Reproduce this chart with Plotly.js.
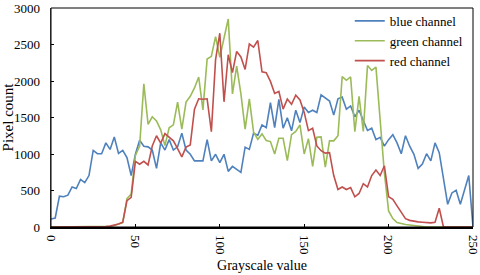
<!DOCTYPE html>
<html><head><meta charset="utf-8">
<script src="https://cdn.plot.ly/plotly-3.0.1.min.js"></script>
<style>html,body{margin:0;padding:0;background:#fff}#chart{width:480px;height:275px}</style>
</head><body><div id="chart"></div>
<script>
const grayscale = [0,2.5,5,7.5,10,12.5,15,17.5,20,22.5,25,27.5,30,32.5,35,37.5,40,42.5,45,47.5,50,52.5,55,57.5,60,62.5,65,67.5,70,72.5,75,77.5,80,82.5,85,87.5,90,92.5,95,97.5,100,102.5,105,107.5,110,112.5,115,117.5,120,122.5,125,127.5,130,132.5,135,137.5,140,142.5,145,147.5,150,152.5,155,157.5,160,162.5,165,167.5,170,172.5,175,177.5,180,182.5,185,187.5,190,192.5,195,197.5,200,202.5,205,207.5,210,212.5,215,217.5,220,222.5,225,227.5,230,232.5,235,237.5,240,242.5,245,247.5,250];
const blueChannel = [110,123,423,414,436,548,526,651,607,705,
 1050,1004,1004,1152,1063,1232,1009,1050,950,705,
 996,1188,1107,1098,1054,803,1152,1054,1197,1054,
 1098,1286,1054,996,906,909,906,1197,906,996,
 883,996,762,830,785,749,1094,1063,1286,1255,
 1399,1362,1702,1362,1747,1353,1497,1318,1600,1430,
 1644,1568,1600,1568,1810,1769,1725,1533,1756,1779,
 1613,1658,1510,1600,1466,1322,1353,1197,1228,1107,
 1197,1264,1152,1004,1251,1107,996,803,862,1004,
 906,1152,1018,638,311,467,503,311,526,705,
 0];
const greenChannel = [0,0,0,0,0,0,0,0,0,0,
 0,0,0,3,10,20,35,60,390,450,
 980,1110,1960,1407,1510,1452,1331,1115,1360,1400,
 1711,1340,1711,1790,1905,2055,1605,2302,2338,2607,
 2325,2570,2850,1823,2204,1823,1340,1756,1300,1200,
 1275,1185,1170,1000,1215,1215,910,1264,1309,1399,
 1000,1211,830,1230,1235,820,1180,1180,1250,2060,
 2010,2055,1305,1790,1310,2212,2145,2190,1510,740,
 220,115,60,45,34,28,20,10,3,0,
 0,0,0,0,0,0,0,0,0,0,
 0];
const redChannel = [0,0,0,0,0,0,0,0,0,0,
 0,0,0,5,12,25,40,65,360,405,
 900,860,900,850,1110,1250,1150,1280,1235,1180,
 1075,960,1095,1125,1615,1756,1750,1756,1305,2293,
 2655,1715,2360,2114,2405,2330,2158,2507,2465,2555,
 2125,2114,1995,1830,1857,1615,1752,1680,1805,1740,
 1570,1320,1353,1110,1045,1012,1018,705,513,548,
 513,540,414,459,593,548,705,781,705,839,
 414,380,289,199,114,91,78,70,65,60,
 56,65,257,0,0,0,0,0,0,0,
 0];
const seriesNames = ['blue channel','green channel','red channel'];
const seriesColors = ['#4F81BD','#9BBB59','#C0504D'];
const xTicks = [0,50,100,150,200,250];
const yTicks = [0,500,1000,1500,2000,2500,3000];

const serif = 'Liberation Serif, Times New Roman, serif';
const data = [blueChannel, greenChannel, redChannel].map((ys, i) => ({
  x: grayscale, y: ys, name: seriesNames[i], type: 'scatter', mode: 'lines',
  line: {color: seriesColors[i], width: 1.6}
}));

const layout = {
  width: 480, height: 275,
  margin: {l: 51, r: 7, t: 7, b: 48, pad: 0},
  paper_bgcolor: '#ffffff', plot_bgcolor: '#ffffff',
  font: {family: serif, size: 13, color: '#000'},
  showlegend: true,
  legend: {x: 0.708, y: 1.005, xanchor: 'left', yanchor: 'top', bgcolor: 'rgba(0,0,0,0)',
           font: {family: serif, size: 13, color: '#000'}, tracegroupgap: 0},
  xaxis: {range: [0, 250], tickvals: xTicks, ticktext: xTicks.map(String), tickangle: 90,
          ticks: 'inside', ticklen: 3, tickcolor: '#000', showgrid: false, zeroline: false,
          showline: true, linecolor: '#000', linewidth: 1.5, ticklabeloverflow: 'allow',
          ticklabelstandoff: 4,
          tickfont: {family: serif, size: 13, color: '#000'},
          title: {text: 'Grayscale value', font: {family: serif, size: 14, color: '#000'}, standoff: 6}},
  yaxis: {range: [0, 3000], tickvals: yTicks, ticktext: yTicks.map(String),
          ticks: 'inside', ticklen: 3, tickcolor: '#000', showgrid: false, zeroline: false,
          showline: true, linecolor: '#444', linewidth: 1.5, ticklabeloverflow: 'allow',
          ticklabelstandoff: 7,
          tickfont: {family: serif, size: 13, color: '#000'},
          title: {text: 'Pixel count', font: {family: serif, size: 15, color: '#000'}, standoff: 6}},
  shapes: [{type: 'rect', xref: 'paper', yref: 'paper', x0: 0, x1: 1, y0: 0, y1: 1,
            line: {color: '#000', width: 1}, layer: 'above'}]
};
Plotly.newPlot('chart', data, layout, {displayModeBar: false, staticPlot: true});
</script></body></html>
